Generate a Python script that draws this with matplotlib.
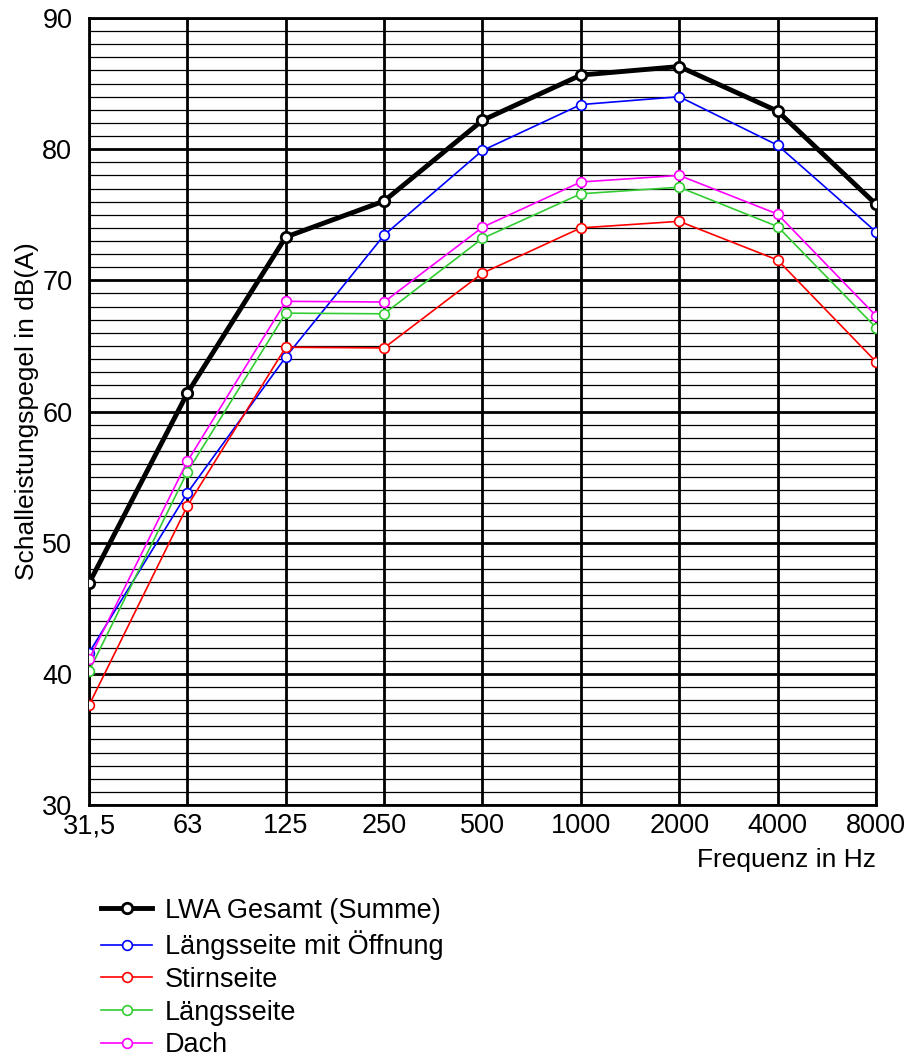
import numpy as np
import matplotlib.pyplot as plt

plt.rcParams['font.family'] = ['Liberation Sans', 'DejaVu Sans']

freqs = ["31,5", "63", "125", "250", "500", "1000", "2000", "4000", "8000"]

gesamt = [46.9, 61.4, 73.3, 76.05, 82.2, 85.65, 86.3, 82.9, 75.8]
laengs_oeffnung = [41.6, 53.8, 64.15, 73.45, 79.9, 83.4, 84.0, 80.3, 73.7]
stirn = [37.6, 52.8, 64.9, 64.85, 70.55, 74.0, 74.5, 71.55, 63.8]
laengs = [40.2, 55.4, 67.5, 67.45, 73.2, 76.6, 77.1, 74.1, 66.4]
dach = [41.1, 56.2, 68.4, 68.35, 74.05, 77.5, 78.0, 75.05, 67.3]

fig = plt.figure(figsize=(9.09, 10.59), dpi=100)
ax = fig.add_axes([0.0979, 0.2398, 0.8658, 0.7432])

x = np.arange(len(freqs))

# grid: thin every dB, thick every 10 dB, vertical at each band
for v in range(30, 91):
    if v % 10 == 0:
        ax.axhline(v, color='black', lw=2.0, zorder=1)
    else:
        ax.axhline(v, color='black', lw=0.9, zorder=1)
for xi in x:
    ax.axvline(xi, color='black', lw=2.0, zorder=1)

ax.plot(x, gesamt, color='black', lw=3.5, marker='o', ms=7.5, mfc='white',
        mec='black', mew=2, label='LWA Gesamt (Summe)', zorder=5)
ax.plot(x, laengs_oeffnung, color='#0000ff', lw=1.2, marker='o', ms=7, mfc='white',
        mec='#0000ff', mew=1.2, label='Längsseite mit Öffnung', zorder=4)
ax.plot(x, stirn, color='#ff0000', lw=1.2, marker='o', ms=7, mfc='white',
        mec='#ff0000', mew=1.2, label='Stirnseite', zorder=4)
ax.plot(x, laengs, color='#33cc33', lw=1.2, marker='o', ms=7, mfc='white',
        mec='#33cc33', mew=1.2, label='Längsseite', zorder=4)
ax.plot(x, dach, color='#ff00ff', lw=1.2, marker='o', ms=7, mfc='white',
        mec='#ff00ff', mew=1.2, label='Dach', zorder=4)

ax.set_xlim(0, len(freqs) - 1)
ax.set_ylim(30, 90)
ax.set_xticks(x)
ax.set_xticklabels(freqs)
ax.set_yticks(range(30, 91, 10))
ax.tick_params(length=0, labelsize=19.5)
ax.tick_params(axis='y', pad=12)
ax.tick_params(axis='x', pad=6)
for s in ax.spines.values():
    s.set_linewidth(2)

ax.set_ylabel('Schalleistungspegel in dB(A)', fontsize=19)
ax.yaxis.set_label_coords(-0.064, 0.5)
ax.text(1.0, -0.07, 'Frequenz in Hz', transform=ax.transAxes, ha='right',
        va='center', fontsize=19)

fig.legend(loc='upper left', bbox_to_anchor=(0.111, 0.1525), frameon=False,
           fontsize=19.5, handlelength=1.9, handletextpad=0.45, labelspacing=0.25,
           borderaxespad=0, borderpad=0)

fig.savefig('out.png', dpi=100)
